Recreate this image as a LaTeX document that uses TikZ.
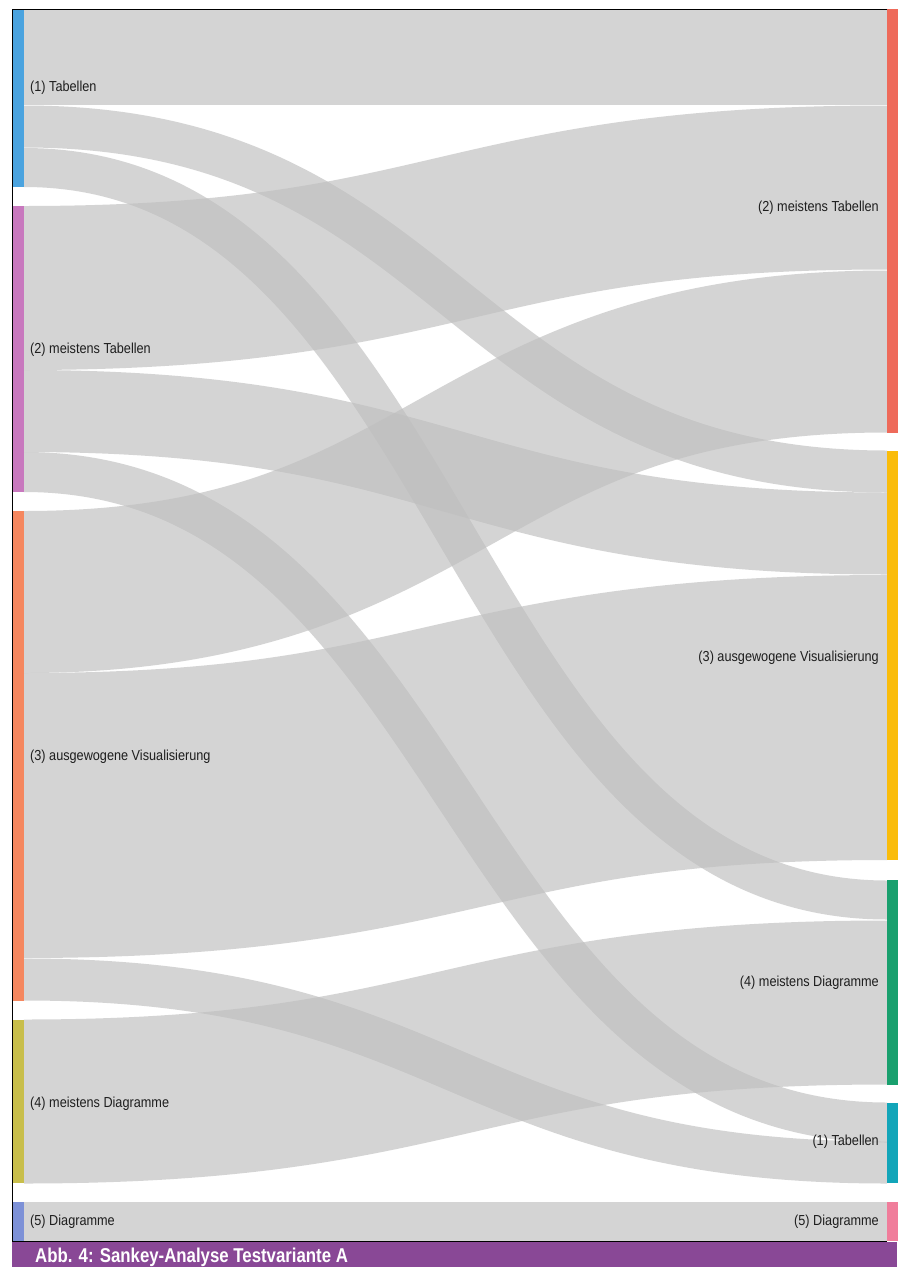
\documentclass[tikz,border=0pt]{standalone}
\usepackage{fontspec}
\setmainfont{Liberation Sans}[FakeStretch=0.875]
\newfontfamily\captionfont{Liberation Sans}[FakeStretch=0.84]

% node colours, left column
\definecolor{srcA}{HTML}{4AA3DF}
\definecolor{srcB}{HTML}{C878BE}
\definecolor{srcC}{HTML}{F5875F}
\definecolor{srcD}{HTML}{C8BE4B}
\definecolor{srcE}{HTML}{7D91D7}
% node colours, right column
\definecolor{dstA}{HTML}{12A5B9}
\definecolor{dstB}{HTML}{EE6A5A}
\definecolor{dstC}{HTML}{FABC0A}
\definecolor{dstD}{HTML}{19A06E}
\definecolor{dstE}{HTML}{F07D9B}
\definecolor{captionbg}{HTML}{894896}
\definecolor{labeltext}{HTML}{1E1E1E}

% one Sankey flow: name, y at source, y at target, band width
\newcommand\sankeyflow[4]{%
  \coordinate (#1-s) at (24,#2);
  \coordinate (#1-t) at (887,#3);
  \draw[flowband, line width=#4pt]
    (#1-s) .. controls (#1-s -| mid) and (#1-t -| mid) .. (#1-t);
}

\begin{document}
\begin{tikzpicture}[x=1pt, y=-1pt,
  flowband/.style={draw=black!25, draw opacity=0.66, line cap=butt},
  leftbar/.style={draw=none, inner sep=0pt, minimum width=11.5pt},
  rightbar/.style={draw=none, inner sep=0pt, minimum width=10.5pt},
  leftlabel/.style={anchor=west, inner sep=0pt, text=labeltext, font=\fontsize{14.5}{16}\selectfont},
  rightlabel/.style={anchor=east, inner sep=0pt, text=labeltext, font=\fontsize{14.5}{16}\selectfont}]

\useasboundingbox (0,0) rectangle (901,1267);
\fill[white] (0,0) rectangle (901,1267);

\coordinate (mid) at (455.5,0);

% flows, clipped to the frame
\begin{scope}
  \clip (12,9) rectangle (897,1241);
  % from (1) Tabellen
  \sankeyflow{ab}{45}{45}{120}
  \sankeyflow{ac}{126.5}{471.5}{42}
  \sankeyflow{ad}{167.5}{900}{39}
  % from (2) meistens Tabellen
  \sankeyflow{bb}{288}{187.5}{164}
  \sankeyflow{bc}{411}{533.5}{82}
  \sankeyflow{ba}{472}{1122.5}{40}
  % from (3) ausgewogene Visualisierung
  \sankeyflow{cb}{592}{351.5}{162}
  \sankeyflow{cc}{815.5}{717.5}{285}
  \sankeyflow{ca}{979.5}{1162.5}{42}
  % from (4) meistens Diagramme
  \sankeyflow{dd}{1101.5}{1002.5}{164}
  % from (5) Diagramme
  \sankeyflow{ee}{1221.5}{1221.5}{39}
\end{scope}

% left column nodes
\node[leftbar, fill=srcA, minimum height=178pt] (L1) at (18.25,98) {};
\node[leftbar, fill=srcB, minimum height=286pt] (L2) at (18.25,349) {};
\node[leftbar, fill=srcC, minimum height=490pt] (L3) at (18.25,756) {};
\node[leftbar, fill=srcD, minimum height=163pt] (L4) at (18.25,1101.5) {};
\node[leftbar, fill=srcE, minimum height=39pt] (L5) at (18.25,1221.5) {};

% right column nodes
\node[rightbar, fill=dstB, minimum height=424pt] (R2) at (892.25,221) {};
\node[rightbar, fill=dstC, minimum height=409pt] (R3) at (892.25,655.5) {};
\node[rightbar, fill=dstD, minimum height=205pt] (R4) at (892.25,982.5) {};
\node[rightbar, fill=dstA, minimum height=80pt] (R1) at (892.25,1143) {};
\node[rightbar, fill=dstE, minimum height=39pt] (R5) at (892.25,1221.5) {};

% frame
\draw[line width=0.9pt] (887,9) -- (12,9) -- (12,1241) -- (887,1241);

% labels
\node[leftlabel] (tL1) at (30,88) {(1) Tabellen};
\node[leftlabel] (tL2) at (30,350) {(2) meistens Tabellen};
\node[leftlabel] (tL3) at (30,757) {(3) ausgewogene Visualisierung};
\node[leftlabel] (tL4) at (30,1104) {(4) meistens Diagramme};
\node[leftlabel] (tL5) at (30,1222) {(5) Diagramme};

\node[rightlabel] (tR2) at (879,208) {(2) meistens Tabellen};
\node[rightlabel] (tR3) at (879,658) {(3) ausgewogene Visualisierung};
\node[rightlabel] (tR4) at (879,983) {(4) meistens Diagramme};
\node[rightlabel] (tR1) at (879,1142) {(1) Tabellen};
\node[rightlabel] (tR5) at (879,1222) {(5) Diagramme};

% caption bar
\fill[captionbg] (12,1241.5) rectangle (897,1267);
\node[anchor=base west, inner sep=0pt, text=white,
      font=\captionfont\bfseries\fontsize{20}{21}\selectfont] (cap) at (35,1262.5)
  {Abb. 4: Sankey-Analyse Testvariante A};
\end{tikzpicture}
\end{document}
